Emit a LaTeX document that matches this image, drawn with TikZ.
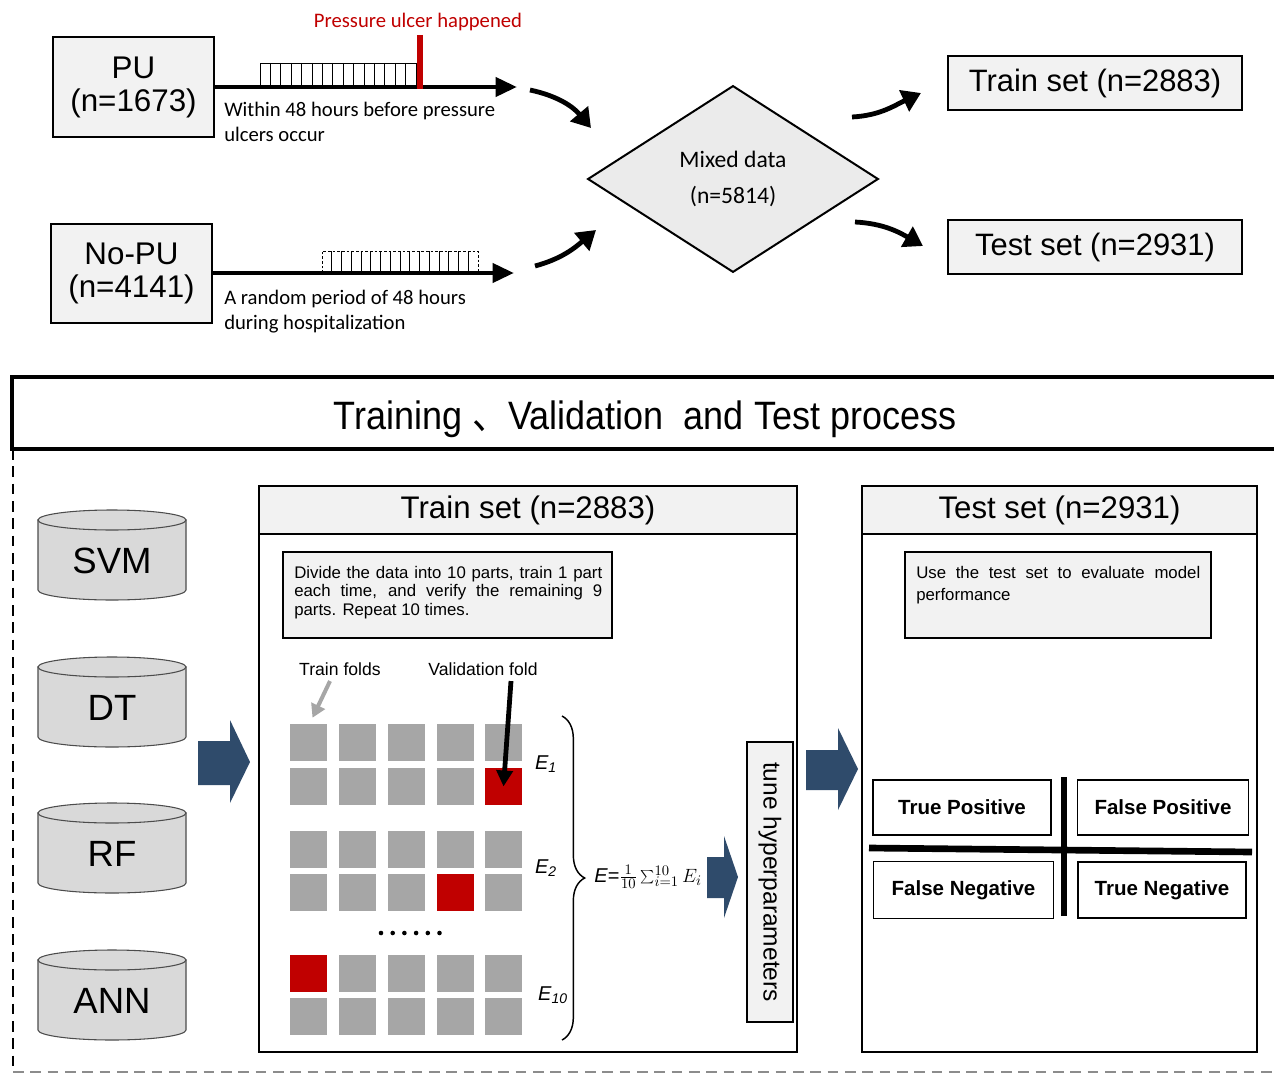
\documentclass[tikz,border=0pt]{standalone}
\usepackage{fontspec}
\setmainfont{Liberation Sans}
\newfontfamily\calib{Carlito}
\newfontfamily\cjk{Noto Sans CJK SC}
\usetikzlibrary{shapes.geometric,arrows.meta,decorations.pathreplacing,calc}
\definecolor{boxgray}{HTML}{F2F2F2}
\definecolor{diagray}{HTML}{EBEBEB}
\definecolor{cylgray}{HTML}{D9D9D9}
\definecolor{sqgray}{HTML}{A6A6A6}
\definecolor{pured}{HTML}{C00000}
\definecolor{navy}{HTML}{2F4B6B}
\begin{document}
\begin{tikzpicture}[x=0.75pt,y=-0.75pt,
  bigbox/.style={draw=black, line width=1.5pt, fill=boxgray, align=center, inner sep=0pt,
    font=\fontsize{23.5}{24.75}\selectfont},
  setbox/.style={draw=black, line width=1.5pt, fill=boxgray, inner sep=0pt,
    minimum width=220.5pt, minimum height=40.5pt, font=\fontsize{23.2}{26}\selectfont},
  timeline/.style={line width=3.6pt, -{Triangle[length=16pt,width=14pt]}},
  hatch/.style={line width=0.7pt},
  note/.style={font=\calib\fontsize{15.5}{18.75}\selectfont, align=left, anchor=north west, inner sep=0pt},
  curvarrow/.style={line width=3.6pt, -{Triangle[length=14pt,width=17pt]}},
  panel/.style={draw=black, line width=1.3pt},
  hdr/.style={draw=black, line width=1.3pt, fill=boxgray, inner sep=0pt, font=\fontsize{23.4}{26}\selectfont},
  descbox/.style={draw=black, line width=1.5pt, fill=boxgray, inner sep=0pt},
  desctext/.style={anchor=north west, inner sep=0pt, align=justify},
  small/.style={font=\fontsize{13.2}{15}\selectfont, inner sep=0pt},
  sq/.style={minimum size=27.75pt, inner sep=0pt},
  elab/.style={font=\fontsize{15}{17}\selectfont\itshape, inner sep=0pt},
  cyl/.style={draw=black!70, line width=0.8pt, fill=cylgray},
  cyltext/.style={font=\fontsize{27.4}{30}\selectfont, inner sep=0pt},
  blockarrow/.style={fill=navy},
  cmbox/.style={draw=black, line width=1.1pt, inner sep=0pt, font=\bfseries\fontsize{15.4}{18}\selectfont},
  tunebox/.style={draw=black, line width=1.5pt, fill=boxgray, inner sep=0pt, rotate=-90,
    minimum width=210pt, minimum height=34.5pt, font=\fontsize{18.4}{20}\selectfont}
]
\useasboundingbox (0,0) rectangle (1274,1074);

% ---------- top part ----------
\node[bigbox, minimum width=120.75pt, minimum height=74.25pt] (pu) at (133.5,87) {PU\\(n=1673)};
\node[bigbox, minimum width=120.75pt, minimum height=74.25pt] (nopu) at (131.5,273) {No-PU\\(n=4141)};

\coordinate (puend) at (517,87);
\coordinate (nopuend) at (514,273);

% PU hatch
\draw[hatch] (260,87) -- (260,63) -- (416,63);
\foreach \i in {1,...,15} \draw[hatch] (260+\i*10.4,63) -- (260+\i*10.4,87);
\draw[timeline] (pu.east) -- (puend);
\draw[pured, line width=4pt] (420,35) -- (420,89);
\node[font=\calib\fontsize{15.5}{18}\selectfont, text=pured, inner sep=0pt] (puh) at (418,22) {Pressure ulcer happened};
\node[note] (punote) at (224,102) {Within 48 hours before pressure\\ulcers occur};

% No-PU hatch (dashed)
\draw[hatch, dashed, dash pattern=on 2pt off 1.5pt] (322,273) -- (322,251) -- (478,251) -- (478,273);
\foreach \i in {1,...,15} \draw[hatch] (322+\i*9.75,251) -- (322+\i*9.75,273);
\draw[timeline] (nopu.east) -- (nopuend);
\node[note] (nopunote) at (224,290) {A random period of 48 hours\\during hospitalization};

% diamond
\node[diamond, draw=black, line width=1.5pt, fill=diagray, minimum width=218pt, minimum height=140pt,
  aspect=1.56, inner sep=0pt, align=center, font=\calib\fontsize{17.7}{27}\selectfont] (mix) at (733,179)
  {Mixed data\\(n=5814)};

\node[setbox] (trtop) at (1095,83) {Train set (n=2883)};
\node[setbox] (tetop) at (1095,247) {Test set (n=2931)};

% curved arrows
\coordinate (c1s) at (530,90);  \coordinate (c1e) at (591,128);
\coordinate (c2s) at (535,266); \coordinate (c2e) at (596,230);
\coordinate (c3s) at (852,117); \coordinate (c3e) at (921,93);
\coordinate (c4s) at (855,222); \coordinate (c4e) at (923,246);
\draw[curvarrow] (c1s) to[out=-12,in=130] (c1e);
\draw[curvarrow] (c2s) to[out=15,in=220] (c2e);
\draw[curvarrow] (c3s) to[out=3,in=205] (c3e);
\draw[curvarrow] (c4s) to[out=-3,in=150] (c4e);

% ---------- bottom part ----------
\draw[line width=2.4pt] (1274,377) -- (12,377) -- (12,449) -- (1274,449);
\node[inner sep=0pt, font=\fontsize{27}{30}\selectfont] (title) at (645,419)
  {\scalebox{1}[1.1]{Training {\cjk 、}Validation\ \ and Test process}};
\draw[line width=1.2pt, dash pattern=on 8pt off 5pt] (13,449) -- (13,1072);
\draw[line width=1.2pt, black!45, dash pattern=on 8pt off 5pt] (13,1072) -- (1274,1072);

% cylinders
\foreach \t/\lab/\nm in {520/SVM/svm, 667/DT/dt, 813/RF/rf, 960/ANN/ann}{
  \filldraw[cyl] (38,\t) -- (38,\t+70) arc[start angle=180,end angle=0,x radius=74,y radius=10] -- (186,\t) -- cycle;
  \filldraw[cyl] (112,\t) ellipse[x radius=74, y radius=10];
  \node[cyltext] (\nm) at (112,\t+41) {\lab};
}

% block arrows
\fill[blockarrow] (198,741) -- (230,741) -- (230,720) -- (250,762) -- (230,803) -- (230,785) -- (198,785) -- cycle;
\fill[blockarrow] (806,750) -- (838,750) -- (838,728) -- (858,769) -- (838,810) -- (838,790) -- (806,790) -- cycle;
\fill[blockarrow] (707,857) -- (724,857) -- (724,836) -- (738,877) -- (724,918) -- (724,898) -- (707,898) -- cycle;

% train panel
\draw[panel] (259,486) rectangle (797,1052);
\node[hdr, minimum width=403.5pt, minimum height=36pt] (trhdr) at (528,510) {Train set (n=2883)};
\node[descbox, minimum width=246.75pt, minimum height=64.5pt] (trdesc) at (447.5,595) {};
\node[desctext, text width=231pt, font=\fontsize{12.6}{13.9}\selectfont] (trdesctext) at (294,566)
  {\tolerance=10000 Divide the data into 10 parts, train 1 part\linebreak each time, and verify the remaining 9\linebreak parts. Repeat 10 times.};

\node[small] (tf) at (340,669) {Train folds};
\node[small] (vf) at (483,669) {Validation fold};

\foreach \r/\y in {1/742.5, 2/786.5, 3/849.5, 4/892.5, 5/973.5, 6/1016.5}{
  \foreach \c/\x in {1/308.5, 2/357.5, 3/406.5, 4/455.5, 5/503.5}{
    \def\fc{sqgray}
    \ifnum\r\c=25 \def\fc{pured}\fi
    \ifnum\r\c=44 \def\fc{pured}\fi
    \ifnum\r\c=51 \def\fc{pured}\fi
    \node[sq, fill=\fc] (s\r\c) at (\x,\y) {};
  }
}
\draw[sqgray, line width=3pt, -{Triangle[length=10pt,width=11pt]}] ([xshift=-7.5pt,yshift=-4pt]tf.south) -- ($(s11.north)+(4,-6)$);
\draw[black, line width=3.6pt, -{Triangle[length=12pt,width=12pt]}] ([xshift=21pt,yshift=-4pt]vf.south) -- (s25.center);

\foreach \i in {0,...,5} \fill (381+\i*11.7,933) circle[radius=2.3];

\node[elab] (e1) at (546,764) {E\textsubscript{1}};
\node[elab] (e2) at (546,868) {E\textsubscript{2}};
\node[elab] (e10) at (553,995) {E\textsubscript{10}};

\coordinate (bt) at (562,716);
\coordinate (bb) at (562,1040);
\draw[line width=1.1pt, decorate, decoration={brace, amplitude=17pt}] (bt) -- (bb);

\node[inner sep=0pt, font=\fontsize{15}{18}\selectfont] (formula) at (648,877)
  {\textit{E}=$\frac{1}{10}\sum_{i=1}^{10}E_i$};

\node[tunebox] (tune) at (770,882) {tune hyperparameters};

% test panel
\draw[panel] (862,486) rectangle (1257,1052);
\node[hdr, minimum width=296.25pt, minimum height=36pt] (tehdr) at (1059.5,510) {Test set (n=2931)};
\node[descbox, minimum width=229.5pt, minimum height=64.5pt] (tedesc) at (1058,595) {};
\node[desctext, text width=213pt, font=\fontsize{12.6}{16.5}\selectfont] (tedesctext) at (916,566)
  {\tolerance=10000 Use the test set to evaluate model\linebreak performance};

\node[cmbox, minimum width=133.5pt, minimum height=41.25pt] (tp) at (962,807.5) {True Positive};
\node[cmbox, minimum width=128.25pt, minimum height=41.25pt] (fp) at (1163,807.5) {False Positive};
\node[cmbox, minimum width=135pt, minimum height=42.75pt] (fn) at (963.5,890) {False Negative};
\node[cmbox, minimum width=126pt, minimum height=42pt] (tn) at (1162,890) {True Negative};
\coordinate (vtop) at (1064,777); \coordinate (vbot) at (1064,916);
\coordinate (hl) at (869,848); \coordinate (hr) at (1252,852);
\draw[line width=5pt] (vtop) -- (vbot);
\draw[line width=5pt] (hl) -- (hr);
\end{tikzpicture}
\end{document}
